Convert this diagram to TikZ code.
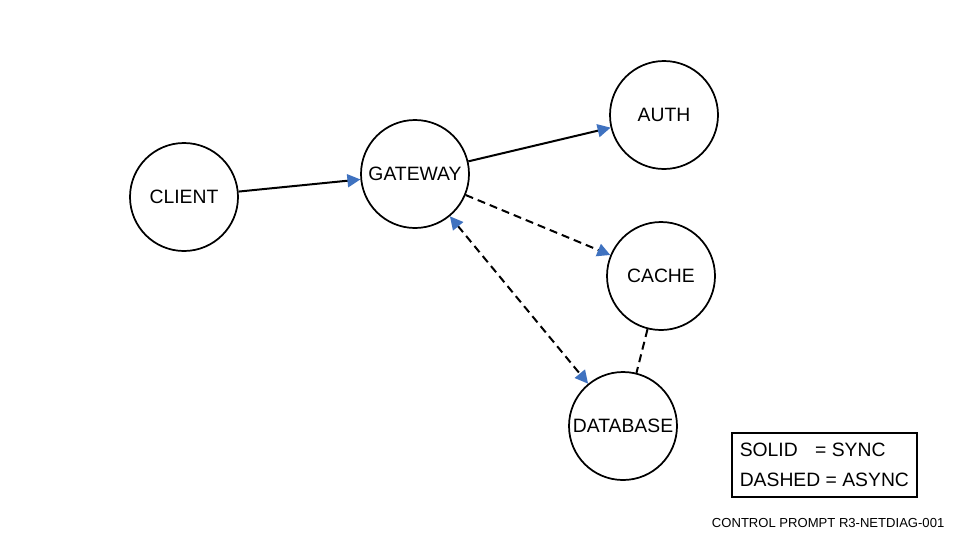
\documentclass[tikz,border=0pt]{standalone}
\usepackage{fontspec}
\setmainfont{Liberation Sans}
\usetikzlibrary{arrows.meta}
\definecolor{tipblue}{HTML}{3F72C0}
\tikzset{
  svc/.style={circle,draw=black,line width=1.3pt,minimum size=81pt,inner sep=0pt,font=\fontsize{14.5}{17}\selectfont},
  link/.style={line width=1.5pt,-{Triangle[color=tipblue,length=9.75pt,width=9.75pt]}},
  twolink/.style={line width=1.5pt,{Triangle[color=tipblue,length=9.75pt,width=9.75pt]}-{Triangle[color=tipblue,length=9.75pt,width=9.75pt]}},
  async/.style={dash pattern=on 6pt off 3.75pt}
}
\begin{document}
\begin{tikzpicture}[x=0.75pt,y=-0.75pt]
		\useasboundingbox (0,0) rectangle (960,540);
		
		%services
		\node[svc] (client) at (184,197) {CLIENT};
		\node[svc] (gateway) at (415,174) {GATEWAY};
		\node[svc] (auth) at (664,115) {AUTH};
		\node[svc] (cache) at (661,276) {CACHE};
		\node[svc] (database) at (623,426) {DATABASE};
		
		%calls
		\draw[link] (client) -- (gateway);
		\draw[link] (gateway) -- (auth);
		\draw[link,async] (gateway) -- (cache);
		\draw[twolink,async] (gateway) -- (database);
		\draw[line width=1.5pt,async] (cache) -- (database);
		
		%legend
		\node[draw=black,line width=1.3pt,minimum width=138.75pt,minimum height=48pt,align=left,
		  inner xsep=5pt,font=\fontsize{14.5}{22}\selectfont,anchor=north west] (legend) at (731,432)
		  {SOLID\hspace{13pt}= SYNC\\DASHED = ASYNC};
		\node[anchor=east,font=\fontsize{9.8}{12}\selectfont] (footer) at (949,523) {CONTROL PROMPT R3-NETDIAG-001};
\end{tikzpicture}
\end{document}
